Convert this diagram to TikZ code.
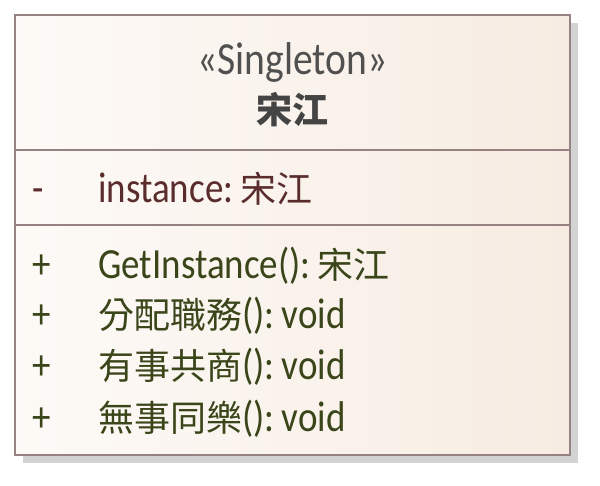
\documentclass[tikz,border=0pt]{standalone}
\usepackage{fontspec}
\setmainfont{Carlito}[FakeStretch=0.86]
\newfontfamily\cjk{Noto Sans CJK TC}
\usepackage{tikz}

\definecolor{umlborder}{RGB}{150,130,130}
\definecolor{umlshadow}{RGB}{211,211,211}
\definecolor{umlfillL}{RGB}{253,250,247}
\definecolor{umlfillR}{RGB}{247,236,226}
\definecolor{stereocol}{RGB}{80,80,80}
\definecolor{namecol}{RGB}{68,68,68}
\definecolor{attrcol}{RGB}{90,44,44}
\definecolor{opcol}{RGB}{58,70,26}

\newcommand{\hanzi}[1]{{\cjk\fontsize{36}{40}\selectfont #1}}

\begin{document}
\begin{tikzpicture}[x=1pt,y=-1pt,line width=2.8pt]
      \tikzstyle{every node}=[inner sep=0pt,font=\fontsize{43}{50}\selectfont]
      \tikzstyle{title}=[anchor=base,text=stereocol]
      \tikzstyle{attr}=[anchor=base west,text=attrcol]
      \tikzstyle{oper}=[anchor=base west,text=opcol]

      \useasboundingbox (0,0) rectangle (600,486);
      \fill[umlshadow] (23,23) rectangle (578,463);
      \shade[left color=umlfillL,right color=umlfillR] (15,15) rectangle (570,455);
      \draw[umlborder] (15,15) rectangle (570,455);
      \draw[umlborder] (15,150) -- (570,150);
      \draw[umlborder] (15,225) -- (570,225);

      \node[title,font=\fontsize{46}{50}\selectfont] (st) at (292.5,75) {«Singleton»};
      \node[title,text=namecol] (cn) at (292.5,124) {\hanzi{\bfseries 宋江}};

      \node[attr] (vis0) at (31,203) {-};
      \node[attr] (attr0) at (97,203) {instance:\,\hanzi{宋江}};

      \node[oper] (vis1) at (31,279) {+};
      \node[oper] (op1) at (97,279) {GetInstance():\,\hanzi{宋江}};
      \node[oper] (vis2) at (31,329) {+};
      \node[oper] (op2) at (97,329) {\hanzi{分配職務}():\,void};
      \node[oper] (vis3) at (31,380) {+};
      \node[oper] (op3) at (97,380) {\hanzi{有事共商}():\,void};
      \node[oper] (vis4) at (31,431) {+};
      \node[oper] (op4) at (97,431) {\hanzi{無事同樂}():\,void};
\end{tikzpicture}
\end{document}
